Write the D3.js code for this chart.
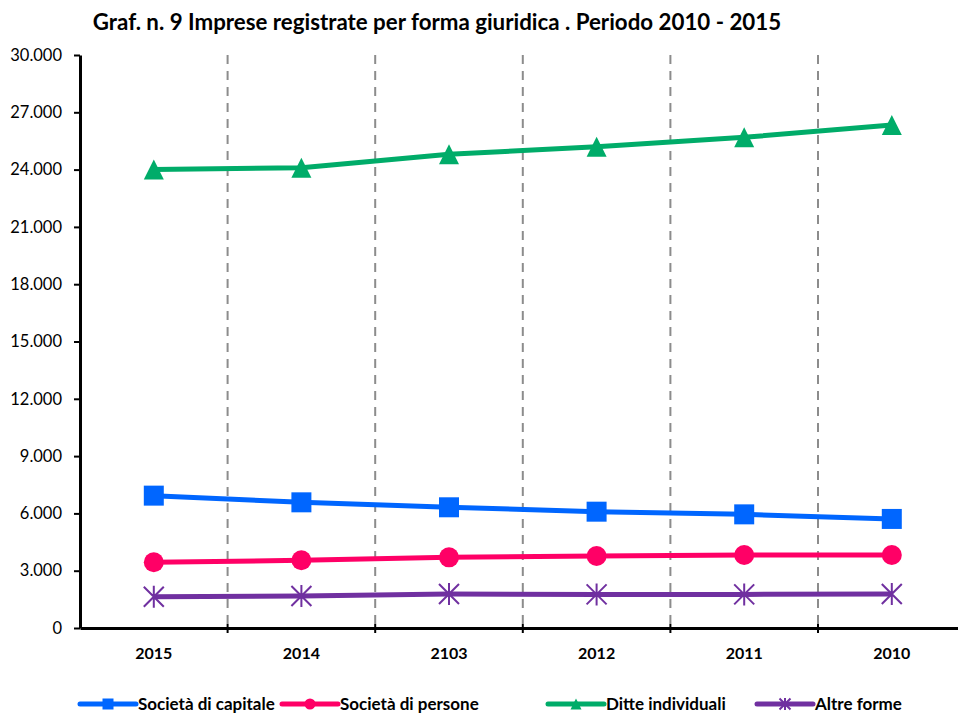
<!DOCTYPE html>
<html>
<head>
<meta charset="utf-8">
<script src="https://cdn.jsdelivr.net/npm/d3@7"></script>
<style>
  body { margin: 0; background: #fff; }
  text { font-family: Lato, "Open Sans", sans-serif; }
</style>
</head>
<body>
<svg id="chart" width="958" height="713"></svg>
<script>
var years = ['2015', '2014', '2103', '2012', '2011', '2010'],
    seriesNames = ['Società di capitale', 'Società di persone', 'Ditte individuali', 'Altre forme'],
    capitale = [6930, 6580, 6320, 6090, 5950, 5710],
    persone = [3440, 3545, 3700, 3770, 3820, 3820],
    ditte = [24000, 24100, 24800, 25200, 25690, 26340],
    altre = [1640, 1675, 1780, 1760, 1760, 1780],
    yTicks = [0, 3000, 6000, 9000, 12000, 15000, 18000, 21000, 24000, 27000, 30000],
    title = 'Graf. n. 9 Imprese registrate per forma giuridica . Periodo 2010 - 2015';

var colors = ['#0066ff', '#ff0066', '#00ac69', '#7030a0'],
    symbols = ['square', 'circle', 'triangle', 'star'];

var series = [capitale, persone, ditte, altre].map(function(v, i) {
  return { name: seriesNames[i], color: colors[i], symbol: symbols[i],
           values: v.map(function(d, j) { return { year: years[j], value: d }; }) };
});

var svg = d3.select('#chart'),
    plotLeft = 80,
    plotRight = 965.6,
    plotTop = 55,
    plotBottom = 628;

svg.append('rect').attr('width', 958).attr('height', 713).attr('fill', '#fff');

var x = d3.scaleBand().domain(years).range([plotLeft, plotRight]);
var y = d3.scaleLinear().domain([0, 30000]).range([plotBottom, plotTop]);

var itLocale = d3.formatLocale({ decimal: ',', thousands: '.', grouping: [3], currency: ['', '€'] });
var fmt = itLocale.format(',d');

// title
svg.append('text')
   .attr('x', 437)
   .attr('y', 30)
   .attr('text-anchor', 'middle')
   .attr('font-size', 22.3)
   .attr('font-weight', 'bold')
   .attr('fill', '#000')
   .text(title);

// dashed vertical gridlines at category boundaries
svg.append('g')
   .selectAll('line')
   .data(years.slice(1))
   .enter().append('line')
     .attr('x1', function(d) { return x(d); })
     .attr('x2', function(d) { return x(d); })
     .attr('y1', plotTop)
     .attr('y2', plotBottom)
     .attr('stroke', '#8c8c8c')
     .attr('stroke-width', 2)
     .attr('stroke-dasharray', '9,7');

// y axis
var yAxis = svg.append('g')
   .attr('transform', 'translate(' + plotLeft + ',0)')
   .call(d3.axisLeft(y).tickValues(yTicks).tickFormat(fmt).tickSize(6).tickSizeOuter(0));
yAxis.select('.domain').attr('stroke', '#000').attr('stroke-width', 3);
yAxis.selectAll('.tick line').attr('stroke', '#000').attr('stroke-width', 2);
yAxis.selectAll('.tick text')
     .attr('x', -18)
     .attr('font-size', 16.5)
     .attr('font-family', 'Lato, sans-serif')
     .attr('fill', '#000');

// x axis: labels at band centers, ticks at band edges
var xAxis = svg.append('g')
   .attr('transform', 'translate(0,' + plotBottom + ')')
   .call(d3.axisBottom(x).tickSize(0).tickSizeOuter(0));
xAxis.select('.domain').attr('stroke', '#000').attr('stroke-width', 3);
xAxis.selectAll('.tick text')
     .attr('y', 20)
     .attr('font-size', 16)
     .attr('font-weight', 'bold')
     .attr('font-family', 'Lato, sans-serif')
     .attr('fill', '#000');
xAxis.append('g')
   .selectAll('line')
   .data(years.slice(1))
   .enter().append('line')
     .attr('x1', function(d) { return x(d); })
     .attr('x2', function(d) { return x(d); })
     .attr('y1', -4)
     .attr('y2', 5)
     .attr('stroke', '#000')
     .attr('stroke-width', 2);

var cx = function(d) { return x(d.year) + x.bandwidth() / 2; };

function drawMarker(sel, s, size) {
  var r = size / 2;
  if (s.symbol === 'star') {
    sel.append('path')
       .attr('d', 'M' + (-r) + ',' + (-r) + 'L' + r + ',' + r +
                  'M' + (-r) + ',' + r + 'L' + r + ',' + (-r) +
                  'M0,' + (-r * 1.1) + 'L0,' + (r * 1.1))
       .attr('stroke', s.color)
       .attr('stroke-width', 2)
       .attr('fill', 'none');
  } else if (s.symbol === 'triangle') {
    sel.append('path')
       .attr('d', 'M0,' + (-r) + 'L' + r + ',' + r + 'L' + (-r) + ',' + r + 'Z')
       .attr('fill', s.color);
  } else {
    var area = s.symbol === 'square' ? size * size : Math.PI * r * r;
    var type = s.symbol === 'square' ? d3.symbolSquare : d3.symbolCircle;
    sel.append('path')
       .attr('d', d3.symbol().type(type).size(area)())
       .attr('fill', s.color);
  }
}

var line = d3.line().x(cx).y(function(d) { return y(d.value); });

var groups = svg.selectAll('.series')
   .data(series)
   .enter().append('g')
     .attr('class', 'series');

groups.append('path')
   .attr('d', function(d) { return line(d.values); })
   .attr('fill', 'none')
   .attr('stroke', function(d) { return d.color; })
   .attr('stroke-width', 5)
   .attr('stroke-linejoin', 'round');

groups.each(function(s) {
  d3.select(this).selectAll('.pt')
    .data(s.values)
    .enter().append('g')
      .attr('class', 'pt')
      .attr('transform', function(d) {
        return 'translate(' + cx(d) + ',' + y(d.value) + ')';
      })
      .each(function() { drawMarker(d3.select(this), s, 20); });
});

// legend
var legendX = [80, 282, 548, 757];
var legend = svg.selectAll('.legend')
   .data(series)
   .enter().append('g')
     .attr('class', 'legend')
     .attr('transform', function(d, i) { return 'translate(' + legendX[i] + ',704)'; });

legend.append('line')
   .attr('x1', 0).attr('x2', 56)
   .attr('stroke', function(d) { return d.color; })
   .attr('stroke-width', 5)
   .attr('stroke-linecap', 'round');
legend.each(function(s) {
  var g = d3.select(this).append('g').attr('transform', 'translate(28,0)');
  drawMarker(g, s, 11);
});
legend.append('text')
   .attr('x', 58)
   .attr('dy', '0.35em')
   .attr('font-size', 17)
   .attr('font-weight', 'bold')
   .attr('fill', '#000')
   .text(function(d) { return d.name; });
</script>
</body>
</html>
